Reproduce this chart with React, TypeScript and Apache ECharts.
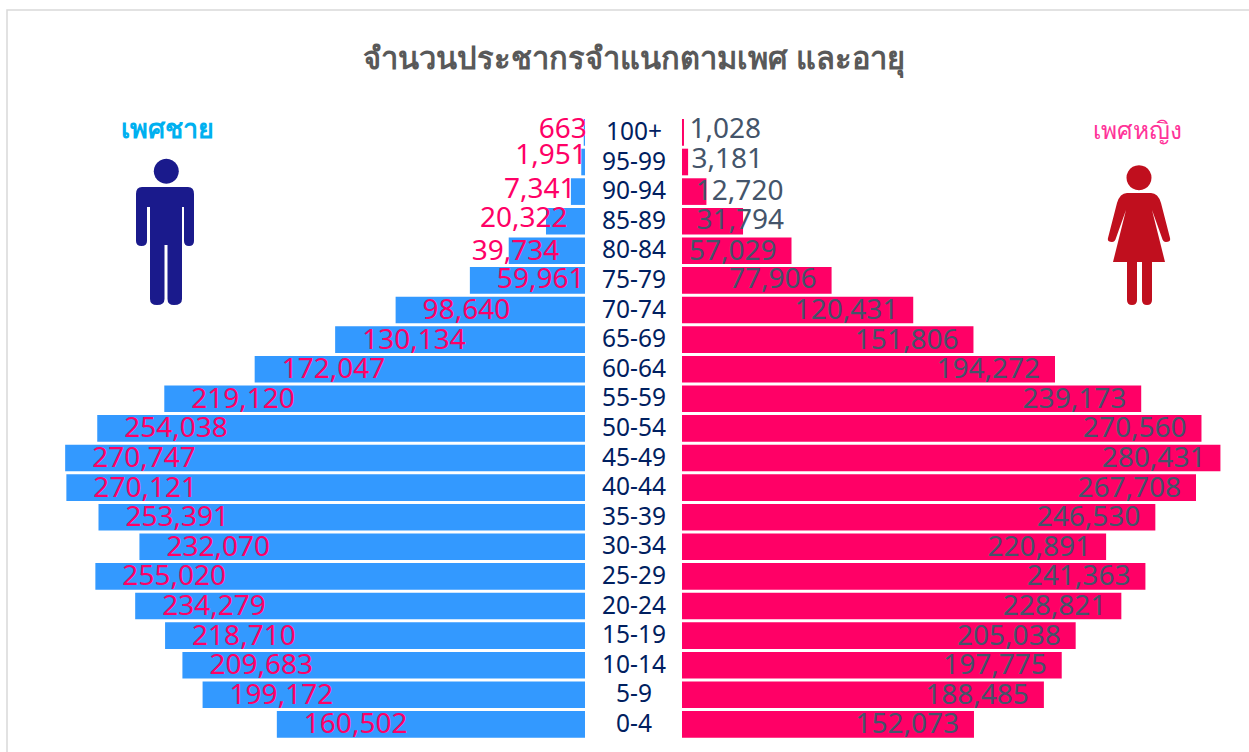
import React, { useEffect, useRef } from "react";
import * as echarts from "echarts";

const categories = ["100+","95-99","90-94","85-89","80-84","75-79","70-74","65-69","60-64","55-59","50-54","45-49","40-44","35-39","30-34","25-29","20-24","15-19","10-14","5-9","0-4"];
const maleValues = [663,1951,7341,20322,39734,59961,98640,130134,172047,219120,254038,270747,270121,253391,232070,255020,234279,218710,209683,199172,160502];
const femaleValues = [1028,3181,12720,31794,57029,77906,120431,151806,194272,239173,270560,280431,267708,246530,220891,241363,228821,205038,197775,188485,152073];
const maleLabelShift = [-72,-93,-94,-93,-64,0,0,0,0,0,0,0,0,0,0,0,0,0,0,0,0];
const femaleLabelShift = [92,90,92,56,0,0,0,0,0,0,0,0,0,0,0,0,0,0,0,0,0];
const maleLabelRise = [-5,-9,-5,-5,-2,-3,-2,-2,-2,-2,-2,-2,-2,-2,-2,-2,-2,-2,-2,-2,-2];
const femaleLabelRise = [-5,-5,-3,-3,-2,-3,-2,-2,-2,-2,-2,-2,-2,-2,-2,-2,-2,-2,-2,-2,-2];

const titleText = "จำนวนประชากรจำแนกตามเพศ และอายุ";
const maleText = "เพศชาย";
const femaleText = "เพศหญิง";
const FONT = "'Noto Sans', 'Open Sans', sans-serif";

const manPath = "M142 187 H188 Q194 187 194 194 V241 Q194 246 189 246 Q184 246 184 241 V207 H182 V299 Q182 305 174 305 Q167.5 305 167.5 299 V245 H164.5 V299 Q164.5 305 157 305 Q150 305 150 299 V207 H147 V241 Q147 246 141.5 246 Q136 246 136 241 V194 Q136 187 142 187 Z";
const womanPath = "M1127 193 H1151 Q1158 193 1161 203 L1170 238 Q1171 242 1166 242 Q1163 242 1162 238 L1152 210 L1165 262 H1152 V300 Q1152 305 1147 305 Q1142 305 1142 300 V262 H1137 V300 Q1137 305 1132 305 Q1127 305 1127 300 V262 H1113 L1126 210 L1116 238 Q1115 242 1112 242 Q1107 242 1108 238 L1117 203 Q1120 193 1127 193 Z";
echarts.graphic.registerShape("manIcon", echarts.graphic.extendPath(manPath, {}));
echarts.graphic.registerShape("womanIcon", echarts.graphic.extendPath(womanPath, {}));

const fmt = (p: any) => Number(p.value).toLocaleString("en-US");

export default function App() {
  const ref = useRef<HTMLDivElement>(null);
  useEffect(() => {
    document.body.style.margin = "0";
    const chart = echarts.init(ref.current!, undefined, { renderer: "svg" });
    const hiddenAxis = { show: false };
    chart.setOption({
      animation: false,
      backgroundColor: "#fff",
      textStyle: { fontFamily: FONT },
      grid: [
        { left: 37.8, width: 547.2, top: 117.6, height: 621.6 },
        { left: 682, width: 547.2, top: 117.6, height: 621.6 },
      ],
      xAxis: [
        { type: "value", gridIndex: 0, min: 0, max: 285000, inverse: true, ...hiddenAxis },
        { type: "value", gridIndex: 1, min: 0, max: 285000, ...hiddenAxis },
      ],
      yAxis: [
        { type: "category", gridIndex: 0, data: categories, inverse: true, show: false },
        {
          type: "category", gridIndex: 1, data: categories, inverse: true, position: "left",
          axisLine: { show: false }, axisTick: { show: false },
          axisLabel: {
            interval: 0, margin: 48, align: "center", color: "#002060", fontSize: 24.5, fontFamily: FONT,
            formatter: (v: string) => `{c|${v}}`,
            rich: { c: { color: "#002060", fontSize: 24.5, fontFamily: FONT, padding: [0, 0, 4, 0] } },
          },
        },
      ],
      series: [
        {
          type: "bar", xAxisIndex: 0, yAxisIndex: 0, barCategoryGap: "10%",
          itemStyle: { color: "#3399ff" },
          data: maleValues.map((v, i) => ({
            value: v,
            label: { offset: [maleLabelShift[i], maleLabelRise[i]] },
          })),
          label: { show: true, position: "insideLeft", distance: 27, color: "#ff0066", fontSize: 28, fontFamily: FONT, formatter: fmt },
        },
        {
          type: "bar", xAxisIndex: 1, yAxisIndex: 1, barCategoryGap: "10%",
          itemStyle: { color: "#ff0066" },
          data: femaleValues.map((v, i) => ({
            value: v,
            label: { offset: [femaleLabelShift[i], femaleLabelRise[i]] },
          })),
          label: { show: true, position: "insideRight", distance: 15, color: "#44546a", fontSize: 28, fontFamily: FONT, formatter: fmt },
        },
      ],
      graphic: [
        { type: "rect", shape: { x: 7, y: 10, width: 1300, height: 800 }, style: { fill: "none", stroke: "#d9d9d9", lineWidth: 1.5 }, z: -1 },
        { type: "text", x: 634, y: 57, style: { text: titleText, fill: "#595959", font: `bold 30.8px ${FONT}`, align: "center", verticalAlign: "middle" } },
        { type: "text", x: 167.5, y: 127, style: { text: maleText, fill: "#00b0f0", font: `bold 27px ${FONT}`, align: "center", verticalAlign: "middle" } },
        { type: "text", x: 1137.5, y: 129, style: { text: femaleText, fill: "#ff3399", font: `24.5px ${FONT}`, align: "center", verticalAlign: "middle" } },
        { type: "circle", shape: { cx: 166.3, cy: 171.3, r: 12.5 }, style: { fill: "#1a1a8c" } },
        { type: "manIcon", x: 0, y: 0, style: { fill: "#1a1a8c" } },
        { type: "circle", shape: { cx: 1139, cy: 177.7, r: 12.5 }, style: { fill: "#c00f1e" } },
        { type: "womanIcon", x: 0, y: 0, style: { fill: "#c00f1e" } },
      ],
    });
    return () => chart.dispose();
  }, []);
  return <div ref={ref} style={{ width: 1249, height: 752 }} />;
}
